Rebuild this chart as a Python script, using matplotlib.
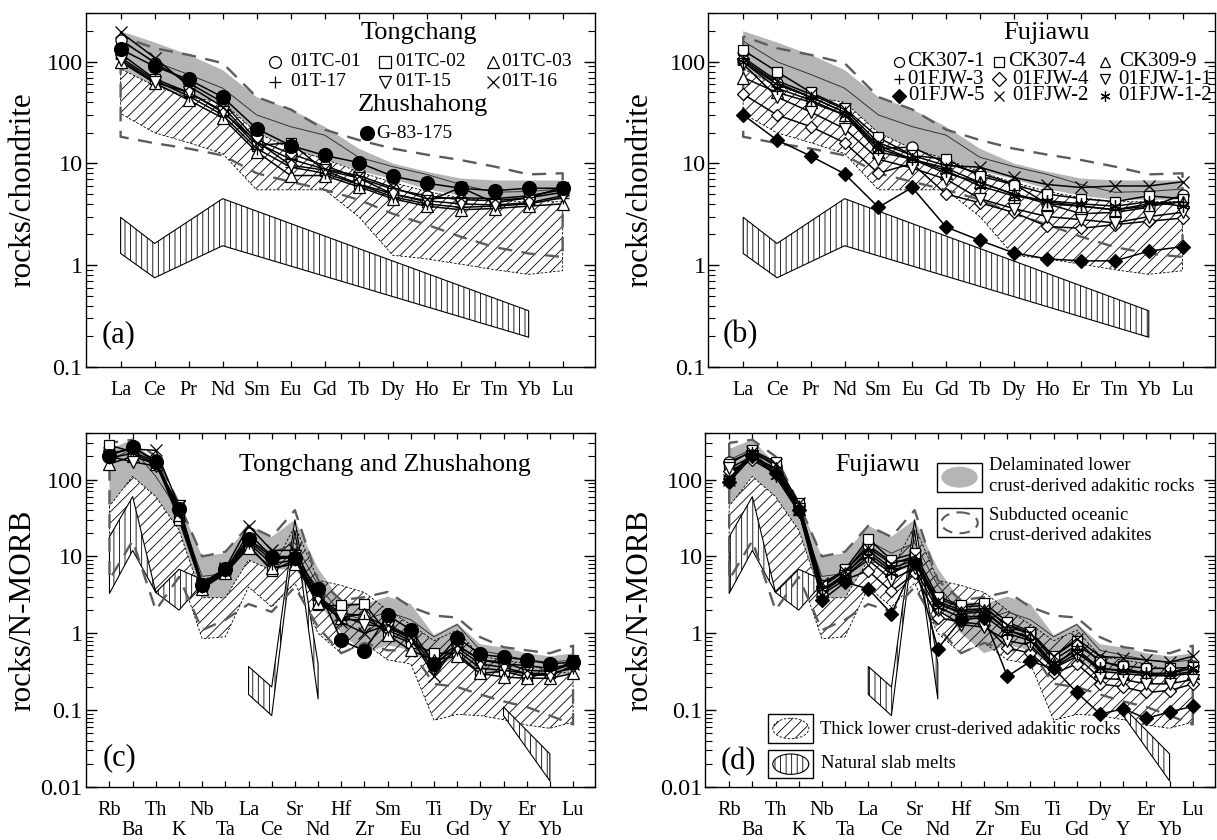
import matplotlib
matplotlib.use('Agg')
import matplotlib.pyplot as plt
from matplotlib.patches import Rectangle, Ellipse
from matplotlib.ticker import LogLocator, FuncFormatter, NullFormatter, NullLocator
import numpy as np

plt.rcParams['font.family'] = ['Liberation Serif', 'DejaVu Serif']
plt.rcParams['hatch.linewidth'] = 0.6
plt.rcParams['hatch.color'] = 'black'
plt.rcParams['axes.linewidth'] = 1.0

# ---------------- element lists ----------------
REE = ['La', 'Ce', 'Pr', 'Nd', 'Sm', 'Eu', 'Gd', 'Tb', 'Dy', 'Ho', 'Er', 'Tm', 'Yb', 'Lu']
SPIDER = ['Rb', 'Ba', 'Th', 'K', 'Nb', 'Ta', 'La', 'Ce', 'Sr', 'Nd', 'Hf', 'Zr',
          'Sm', 'Eu', 'Ti', 'Gd', 'Dy', 'Y', 'Er', 'Yb', 'Lu']

# ---------------- reference fields: chondrite-normalised ----------------
delam_ree_upper = [200, 155, 117, 83, 45, 34, 23, 14, 10, 8.3, 7.1, 6.8, 6.8, 6.8]
delam_ree_lower = [85, 58, 45, 40, 20, 14, 11, 8.5, 7.0, 5.6, 4.8, 4.4, 4.4, 4.4]
delam_ree_mid = [160, 100, 75, 55, 30, 23, 19, 11.5, 9.3, 7.8, 6.2, 5.2, 5.3, 5.6]
thick_ree_upper = [85, 58, 45, 40, 20, 14, 11, 8.3, 6.5, 5.3, 4.6, 4.2, 4.2, 4.2]
thick_ree_lower = [31, 20, 16, 12.5, 5.5, 5.5, 5.5, 3.0, 1.25, 1.15, 1.02, 0.9, 0.81, 0.88]
subd_ree_upper = [178, 136, 117, 97, 45, 34, 21.5, 17, 14, 12.2, 10.8, 9.3, 7.8, 8.0]
subd_ree_lower = [18.3, 15.8, 14, 12, 8, 6.6, 5.5, 4.4, 3.2, 2.5, 1.9, 1.5, 1.3, 1.2]
slab_ree_idx = [0, 1, 3, 12]
slab_ree_upper = [2.95, 1.63, 4.5, 0.355]
slab_ree_lower = [1.3, 0.75, 1.55, 0.195]

# ---------------- reference fields: N-MORB-normalised ----------------
delam_sp_upper = [250, 330, 160, 50, 10, 11, 25, 18, 30, 7, 2.6, 2.4, 3.0, 2.4, 0.95, 1.35, 0.72, 0.65, 0.55, 0.5, 0.55]
delam_sp_lower = [45, 110, 60, 22, 2.9, 2.9, 9, 6.6, 7, 2.5, 1.0, 0.55, 0.7, 0.6, 0.35, 0.5, 0.3, 0.3, 0.28, 0.28, 0.3]
delam_sp_mid = [180, 250, 110, 38, 5.5, 6, 16, 11, 15, 4.2, 1.8, 1.5, 1.9, 1.5, 0.9, 1.3, 0.6, 0.52, 0.45, 0.42, 0.45]
thick_sp_upper = [45, 110, 60, 22, 2.9, 2.9, 9, 6.6, 25, 4.9, 4.2, 3.4, 2.0, 1.3, 0.8, 1.1, 0.5, 0.45, 0.4, 0.32, 0.3]
thick_sp_lower = [5.4, 18, 3.4, 6.6, 0.85, 0.9, 4.0, 2.2, 4.5, 1.0, 0.55, 0.75, 0.45, 0.4, 0.074, 0.088, 0.085, 0.075, 0.064, 0.058, 0.07]
subd_sp_upper = [300, 330, 200, 49, 10, 11.5, 25, 18, 40, 4.9, 2.7, 2.95, 3.45, 2.2, 1.7, 1.6, 0.89, 0.66, 0.60, 0.55, 0.69]
subd_sp_lower = [5, 16, 2.0, 5.4, 1.1, 1.5, 2.4, 1.9, 4.0, 1.2, 0.55, 0.75, 0.6, 0.6, 0.22, 0.2, 0.16, 0.13, 0.11, 0.085, 0.065]
slab_sp1_idx = [0, 1, 2, 3, 4]
slab_sp1_upper = [18, 60, 3.4, 6.8, 5.0]
slab_sp1_lower = [3.3, 12, 3.4, 2.0, 4.4]
slab_sp2_idx = [6, 7, 8, 9]
slab_sp2_upper = [0.37, 0.2, 30, 0.4]
slab_sp2_lower = [0.16, 0.085, 22, 0.14]
slab_sp3_idx = [17, 19]
slab_sp3_upper = [0.11, 0.027]
slab_sp3_lower = [0.085, 0.012]

# ---------------- samples: chondrite-normalised REE ----------------
tc01_ree = [165, 98, 62, 40, 17, 12.5, 9.5, 7.2, 5.6, 4.8, 4.4, 4.3, 4.6, 5.2]
tc02_ree = [120, 68, 50, 33, 15, 16, 8.5, 6.3, 5.0, 4.2, 5.8, 4.1, 4.6, 5.8]
tc03_ree = [100, 62, 42, 28, 13, 7.6, 7.6, 5.9, 4.5, 3.8, 3.5, 3.6, 3.8, 4.0]
t17_ree = [110, 66, 46, 30, 14, 9.2, 8.0, 6.2, 4.7, 4.0, 3.7, 3.8, 4.0, 4.6]
t15_ree = [105, 63, 50, 32, 16.5, 9.6, 8.6, 7.2, 5.0, 4.3, 4.0, 3.9, 4.1, 4.8]
t16_ree = [195, 110, 58, 36, 16, 11, 8.8, 7.6, 5.8, 4.5, 4.6, 4.5, 4.8, 5.5]
g83_ree = [133, 90, 67, 45, 22, 15, 12, 10.2, 7.5, 6.4, 5.7, 5.4, 5.7, 5.7]

ck3071_ree = [105, 62, 45, 32, 14, 14.5, 10, 8.0, 6.3, 4.0, 3.2, 3.3, 3.7, 4.9]
ck3074_ree = [130, 80, 50, 35, 18, 12, 11, 7.5, 6.2, 5.0, 4.5, 4.2, 4.8, 4.5]
ck3099_ree = [70, 50, 40, 30, 13, 11, 8, 6.5, 5.0, 4.0, 3.8, 3.5, 3.8, 4.2]
fjw3_ree = [100, 60, 45, 32, 15, 11, 9, 6.5, 5.0, 4.2, 3.8, 3.5, 4.0, 4.2]
fjw4_ree = [48, 30, 23, 16, 8, 10, 5, 4.1, 3.3, 2.4, 2.3, 2.5, 2.7, 2.9]
fjw11_ree = [95, 45, 32, 22, 11, 9, 7, 4.5, 3.6, 3.0, 2.8, 2.6, 3.0, 3.3]
fjw5_ree = [30, 17, 11.8, 7.9, 3.7, 5.8, 2.37, 1.75, 1.32, 1.15, 1.1, 1.1, 1.37, 1.52]
fjw2_ree = [110, 65, 48, 34, 16, 12, 9.5, 9.2, 7.3, 6.2, 5.8, 6.0, 6.0, 6.6]
fjw12_ree = [100, 55, 42, 30, 14, 11, 8.5, 6, 4.8, 4.3, 4.0, 3.8, 4.2, 3.8]

# ---------------- samples: N-MORB-normalised trace elements ----------------
tc01_sp = [210, 260, 180, 40, 4.3, 6.5, 20, 10, 10, 3.0, 1.8, 1.7, 1.2, 0.9, 0.45, 0.7, 0.45, 0.4, 0.38, 0.35, 0.4]
tc02_sp = [280, 230, 170, 30, 4.0, 6.0, 14, 6.5, 9, 2.3, 2.3, 2.4, 1.0, 0.75, 0.55, 0.55, 0.3, 0.32, 0.27, 0.3, 0.45]
tc03_sp = [160, 200, 160, 35, 3.8, 6.0, 13, 7, 8, 2.5, 1.6, 1.8, 0.95, 0.6, 0.45, 0.5, 0.3, 0.27, 0.26, 0.26, 0.3]
t17_sp = [190, 220, 160, 38, 4.0, 6.3, 15, 8, 9, 2.7, 1.5, 1.5, 1.1, 0.8, 0.35, 0.6, 0.35, 0.33, 0.3, 0.3, 0.35]
t15_sp = [200, 170, 150, 45, 4.2, 6.6, 16, 9, 10, 2.8, 1.7, 1.3, 1.2, 0.85, 0.4, 0.65, 0.4, 0.36, 0.3, 0.28, 0.38]
t16_sp = [220, 250, 240, 45, 4.5, 7.0, 25, 12, 12, 3.2, 1.4, 1.0, 1.3, 0.9, 0.28, 0.7, 0.45, 0.42, 0.33, 0.32, 0.4]
g83_sp = [205, 265, 170, 42, 4.2, 6.9, 17, 9.8, 9.5, 3.8, 0.81, 0.59, 1.71, 1.12, 0.40, 0.88, 0.53, 0.49, 0.45, 0.40, 0.42]

ck3071_sp = [170, 230, 150, 45, 4.0, 6.5, 14, 8.5, 9, 2.8, 2.2, 2.3, 1.2, 1.0, 0.45, 0.7, 0.45, 0.35, 0.3, 0.3, 0.38]
ck3074_sp = [160, 240, 170, 50, 4.2, 6.8, 17, 9, 11, 3.0, 2.3, 2.5, 1.4, 1.05, 0.5, 0.8, 0.42, 0.38, 0.35, 0.35, 0.36]
ck3099_sp = [120, 200, 140, 42, 3.5, 6.0, 11, 6.5, 8, 2.4, 1.9, 2.0, 1.1, 0.9, 0.4, 0.6, 0.32, 0.30, 0.28, 0.28, 0.30]
fjw3_sp = [110, 210, 130, 45, 3.6, 5.8, 12, 7, 9, 2.5, 1.8, 1.9, 1.1, 0.85, 0.38, 0.62, 0.35, 0.33, 0.3, 0.28, 0.32]
fjw4_sp = [130, 180, 120, 40, 3.2, 5.0, 6.5, 3.5, 6, 1.6, 1.4, 1.3, 0.65, 0.55, 0.3, 0.4, 0.22, 0.2, 0.17, 0.18, 0.22]
fjw11_sp = [140, 200, 120, 42, 3.4, 5.5, 9, 5, 7, 2.0, 1.3, 1.2, 0.8, 0.7, 0.35, 0.5, 0.26, 0.25, 0.22, 0.22, 0.25]
fjw5_sp = [93, 200, 120, 40, 2.7, 4.6, 3.8, 1.8, 8.1, 0.63, 1.5, 1.6, 0.275, 0.43, 0.35, 0.17, 0.089, 0.104, 0.078, 0.095, 0.112]
fjw2_sp = [100, 230, 160, 50, 4.5, 6.5, 13, 8, 10, 2.6, 2.0, 2.1, 1.3, 1.0, 0.5, 0.85, 0.5, 0.48, 0.45, 0.42, 0.5]
fjw12_sp = [95, 220, 110, 38, 3.8, 5.5, 10, 6, 8.5, 2.2, 1.6, 1.7, 1.0, 0.8, 0.36, 0.55, 0.35, 0.32, 0.3, 0.3, 0.35]

tc_names = ['01TC-01', '01TC-02', '01TC-03', '01T-17', '01T-15', '01T-16']
fjw_names = ['CK307-1', 'CK307-4', 'CK309-9', '01FJW-3', '01FJW-4', '01FJW-1-1',
             '01FJW-5', '01FJW-2', '01FJW-1-2']

# marker styles (marker, size, filled)
ASTER = (6, 2, 0)
tc_styles = [('o', 8, False), ('s', 7.5, False), ('^', 8, False), ('+', 9, False), ('v', 8, False), ('x', 8, False)]
g83_style = ('o', 10, True)
fjw_styles = [('o', 8, False), ('s', 7.5, False), ('^', 8, False), ('+', 9, False), ('D', 6.5, False),
              ('v', 8, False), ('D', 7, True), ('x', 8, False), (ASTER, 9, False)]

# ---------------- figure ----------------
W, H = 1217, 840
fig = plt.figure(figsize=(W / 100, H / 100), dpi=100)

boxes = {
    'a': (85.6, 13.3, 595.3, 366.7),
    'b': (708.4, 13.3, 1215.0, 366.7),
    'c': (85.6, 433.3, 595.3, 787.0),
    'd': (705.3, 433.3, 1215.0, 787.0),
}


def make_ax(key):
    l, t, r, b = boxes[key]
    return fig.add_axes([l / W, 1 - b / H, (r - l) / W, (b - t) / H])


def style_axes(ax, names, ylim, two_rows):
    n = len(names)
    ax.set_yscale('log')
    ax.set_ylim(*ylim)
    ax.set_xlim(-1.03, n - 1 + 0.96)
    ax.yaxis.set_major_locator(LogLocator(base=10, numticks=12))
    ax.yaxis.set_minor_locator(LogLocator(base=10, subs=np.arange(2, 10), numticks=40))
    ax.yaxis.set_major_formatter(FuncFormatter(lambda v, p: f'{v:g}'))
    ax.yaxis.set_minor_formatter(NullFormatter())
    ax.tick_params(axis='y', which='major', direction='in', length=8, width=1.0,
                   left=True, right=True, labelsize=17.5, pad=2)
    ax.tick_params(axis='y', which='minor', direction='in', length=5, width=0.8,
                   left=True, right=True)
    ax.set_xticks(range(n))
    if two_rows:
        labels = [nm if i % 2 == 0 else '\n' + nm for i, nm in enumerate(names)]
    else:
        labels = names
    ax.set_xticklabels(labels)
    for lbl in ax.get_xticklabels():
        lbl.set_linespacing(1.1)
    ax.xaxis.set_minor_locator(NullLocator())
    ax.tick_params(axis='x', which='major', direction='in', length=4, width=0.9,
                   top=True, bottom=True, labelsize=14.5, pad=10)


def draw_fields(ax, x, d_up, d_lo, d_mid, t_up, t_lo, s_up, s_lo, slabs):
    ax.fill_between(x, d_lo, d_up, facecolor='#b5b5b5', edgecolor='none', zorder=1)
    ax.fill_between(x, t_lo, t_up, facecolor='none', edgecolor='black', hatch='///',
                    linestyle=(0, (3, 2)), linewidth=0.6, zorder=2)
    for sx, slo, sup in slabs:
        ax.fill_between(sx, slo, sup, facecolor='white', edgecolor='black', hatch='|||',
                        linewidth=0.8, zorder=3)
    ax.plot(x, d_mid, color='#333333', lw=0.7, zorder=4)
    ax.fill_between(x, s_lo, s_up, facecolor='none', edgecolor='#5c5c5c',
                    linestyle=(0, (6, 4)), linewidth=1.7, zorder=5)


def draw_sample(ax, x, vals, style):
    m, s, filled = style
    ax.plot(x, vals, color='black', lw=1.1, marker=m, ms=s,
            mfc='black' if filled else 'white', mec='black', mew=0.9, zorder=6)


ax_a = make_ax('a')
ax_b = make_ax('b')
ax_c = make_ax('c')
ax_d = make_ax('d')

xr = np.arange(len(REE))
xs = np.arange(len(SPIDER))

slabs_ree = [(slab_ree_idx, slab_ree_lower, slab_ree_upper)]
slabs_sp = [(slab_sp1_idx, slab_sp1_lower, slab_sp1_upper),
            (slab_sp2_idx, slab_sp2_lower, slab_sp2_upper),
            (slab_sp3_idx, slab_sp3_lower, slab_sp3_upper)]

for ax in (ax_a, ax_b):
    draw_fields(ax, xr, delam_ree_upper, delam_ree_lower, delam_ree_mid,
                thick_ree_upper, thick_ree_lower, subd_ree_upper, subd_ree_lower, slabs_ree)
    style_axes(ax, REE, (0.1, 300), False)
    ax.set_ylabel('rocks/chondrite', fontsize=22.5)

for ax in (ax_c, ax_d):
    draw_fields(ax, xs, delam_sp_upper, delam_sp_lower, delam_sp_mid,
                thick_sp_upper, thick_sp_lower, subd_sp_upper, subd_sp_lower, slabs_sp)
    style_axes(ax, SPIDER, (0.01, 400), True)
    ax.set_ylabel('rocks/N-MORB', fontsize=22.5)

ax_a.yaxis.set_label_coords((37 - 85.6) / (595.3 - 85.6), 0.5)
ax_c.yaxis.set_label_coords((37 - 85.6) / (595.3 - 85.6), 0.5)
ax_b.yaxis.set_label_coords((654.5 - 708.4) / (1215 - 708.4), 0.5)
ax_d.yaxis.set_label_coords((654 - 705.3) / (1215 - 705.3), 0.5)

tc_ree = [tc01_ree, tc02_ree, tc03_ree, t17_ree, t15_ree, t16_ree]
tc_sp = [tc01_sp, tc02_sp, tc03_sp, t17_sp, t15_sp, t16_sp]
fjw_ree = [ck3071_ree, ck3074_ree, ck3099_ree, fjw3_ree, fjw4_ree, fjw11_ree, fjw5_ree, fjw2_ree, fjw12_ree]
fjw_sp = [ck3071_sp, ck3074_sp, ck3099_sp, fjw3_sp, fjw4_sp, fjw11_sp, fjw5_sp, fjw2_sp, fjw12_sp]

for vals, st in zip(tc_ree, tc_styles):
    draw_sample(ax_a, xr, vals, st)
draw_sample(ax_a, xr, g83_ree, g83_style)
for vals, st in zip(tc_sp, tc_styles):
    draw_sample(ax_c, xs, vals, st)
draw_sample(ax_c, xs, g83_sp, g83_style)
for vals, st in zip(fjw_ree, fjw_styles):
    draw_sample(ax_b, xr, vals, st)
for vals, st in zip(fjw_sp, fjw_styles):
    draw_sample(ax_d, xs, vals, st)

# ---------------- overlay for legends / annotations (pixel coordinates) ----------------
ov = fig.add_axes([0, 0, 1, 1], zorder=10)
ov.set_xlim(0, W)
ov.set_ylim(H, 0)
ov.axis('off')


def leg_marker(x, y, style, ms):
    m, s, filled = style
    ov.plot([x], [y], marker=m, ms=ms, mfc='black' if filled else 'white',
            mec='black', mew=0.9, ls='none')


# panel labels
for key, (px, py) in {'a': (119, 335), 'b': (740, 335), 'c': (120, 758), 'd': (738, 762)}.items():
    ov.text(px, py, f'({key})', fontsize=22, ha='center', va='center')

# legend (a)
ov.text(419, 33, 'Tongchang', fontsize=19, ha='center', va='center')
col_mx = [275, 385, 493]
col_tx = [290, 395, 501]
rows_a = [62, 82]
for i, (nm, st) in enumerate(zip(tc_names, tc_styles)):
    r, c = divmod(i, 3)
    leg_marker(col_mx[c], rows_a[r], st, ms=8.5)
    ov.text(col_tx[c], rows_a[r], nm, fontsize=14, ha='left', va='center')
ov.text(423, 105, 'Zhushahong', fontsize=19, ha='center', va='center')
leg_marker(366.7, 133.3, g83_style, ms=10)
ov.text(376, 133.3, 'G-83-175', fontsize=14, ha='left', va='center')

# legend (b)
ov.text(1046, 33, 'Fujiawu', fontsize=19, ha='center', va='center')
col_mx_b = [899, 999, 1105]
col_tx_b = [[907, 1008, 1119], [907, 1012, 1118], [908, 1012, 1118]]
rows_b = [62, 79, 96]
for i, (nm, st) in enumerate(zip(fjw_names, fjw_styles)):
    r, c = divmod(i, 3)
    leg_marker(col_mx_b[c], rows_b[r], st, ms=7.2)
    ov.text(col_tx_b[r][c], rows_b[r], nm, fontsize=15, ha='left', va='center')

# titles (c), (d)
ov.text(385, 465, 'Tongchang and Zhushahong', fontsize=18.5, ha='center', va='center')
ov.text(878, 465, 'Fujiawu', fontsize=18.5, ha='center', va='center')


# field legend (d)
def leg_box(x0, y0, x1, y1):
    ov.add_patch(Rectangle((x0, y0), x1 - x0, y1 - y0, facecolor='white', edgecolor='black', lw=1.0))
    return (x0 + x1) / 2, (y0 + y1) / 2, (x1 - x0) * 0.8, (y1 - y0) * 0.72


cx, cy, ew, eh = leg_box(936.8, 462.7, 982.3, 491.7)
ov.add_patch(Ellipse((cx, cy), ew, eh, facecolor='#b5b5b5', edgecolor='none'))
ov.text(989, 466, 'Delaminated lower', fontsize=13.3, ha='left', va='center')
ov.text(989, 486.7, 'crust-derived adakitic rocks', fontsize=13.3, ha='left', va='center')

cx, cy, ew, eh = leg_box(936.8, 508.3, 982.3, 537.3)
ov.add_patch(Ellipse((cx, cy), ew, eh, facecolor='none', edgecolor='#5c5c5c', lw=1.5,
                     linestyle=(0, (5, 3.5))))
ov.text(989, 515.7, 'Subducted oceanic', fontsize=13.3, ha='left', va='center')
ov.text(989, 535, 'crust-derived adakites', fontsize=13.3, ha='left', va='center')

cx, cy, ew, eh = leg_box(768.3, 714.3, 813.3, 742.7)
ov.add_patch(Ellipse((cx, cy), ew, eh, facecolor='white', edgecolor='black', lw=0.6,
                     linestyle=(0, (3, 2)), hatch='///'))
ov.text(820, 729, 'Thick lower crust-derived adakitic rocks', fontsize=13.3, ha='left', va='center')

cx, cy, ew, eh = leg_box(768.3, 750, 813.3, 778.3)
ov.add_patch(Ellipse((cx, cy), ew, eh, facecolor='white', edgecolor='black', lw=0.8, hatch='|||'))
ov.text(821, 763.3, 'Natural slab melts', fontsize=13.3, ha='left', va='center')

fig.savefig('out.png', dpi=100)
